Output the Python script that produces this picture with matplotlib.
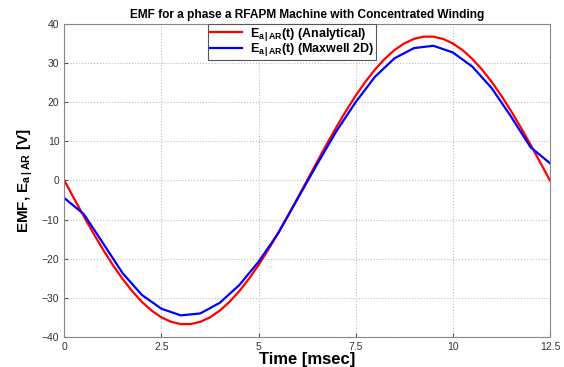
import numpy as np
import matplotlib.pyplot as plt

plt.rcParams['font.family'] = ['Liberation Sans', 'DejaVu Sans']
plt.rcParams['mathtext.fontset'] = 'custom'
plt.rcParams['mathtext.rm'] = 'Liberation Sans:bold'
plt.rcParams['mathtext.it'] = 'Liberation Sans:bold'
plt.rcParams['mathtext.bf'] = 'Liberation Sans:bold'

# analytical EMF, sampled every 0.25 ms
t_analytical = np.arange(0, 12.51, 0.25)
emf_analytical = [
    0.0, -4.61, -9.15, -13.55, -17.73, -21.63, -25.19, -28.35, -31.07, -33.30,
    -35.00, -36.15, -36.73, -36.73, -36.15, -35.00, -33.30, -31.07, -28.35, -25.19,
    -21.63, -17.73, -13.55, -9.15, -4.61, 0.0, 4.61, 9.15, 13.55, 17.73,
    21.63, 25.19, 28.35, 31.07, 33.30, 35.00, 36.15, 36.73, 36.73, 36.15,
    35.00, 33.30, 31.07, 28.35, 25.19, 21.63, 17.73, 13.55, 9.15, 4.61, 0.0,
]

# Maxwell 2D EMF, sampled every 0.5 ms
t_maxwell = np.arange(0, 12.51, 0.5)
emf_maxwell = [
    -4.5, -8.6, -16.1, -23.7, -29.3, -32.8, -34.5, -34.0, -31.3, -26.8,
    -20.8, -13.6, -4.8, 4.0, 12.5, 20.0, 26.5, 31.2, 33.8, 34.4,
    32.7, 29.1, 23.6, 16.3, 8.5, 4.4,
]

fig = plt.figure(figsize=(5.64, 3.67), dpi=100)
ax = fig.add_axes([0.114, 0.082, 0.861, 0.853])

ax.plot(t_analytical, emf_analytical, color='#ff0000', lw=1.6,
        label=r'E$_{\mathrm{a\,|\,AR}}$(t) (Analytical)')
ax.plot(t_maxwell, emf_maxwell, color='#0000ff', lw=1.6,
        label=r'E$_{\mathrm{a\,|\,AR}}$(t) (Maxwell 2D)')

ax.set_xlim(0, 12.5)
ax.set_ylim(-40, 40)
ax.set_xticks([0, 2.5, 5, 7.5, 10, 12.5])
ax.set_xticklabels(['0', '2.5', '5', '7.5', '10', '12.5'])
ax.set_yticks(range(-40, 41, 10))
ax.tick_params(direction='in', length=3, labelsize=7.5, colors='#555555',
               labelcolor='#333333')
for s in ax.spines.values():
    s.set_color('#888888')
ax.grid(True, linestyle=':', color='#bbbbbb', lw=0.8)

ax.set_title('EMF for a phase a RFAPM Machine with Concentrated Winding',
             fontsize=8.6, fontweight='bold', pad=4)
ax.set_xlabel('Time [msec]', fontsize=12, fontweight='bold', labelpad=0)
ax.set_ylabel(r'EMF, E$_{\mathrm{a\,|\,AR}}$ [V]', fontsize=11,
              fontweight='bold', labelpad=5)

leg = ax.legend(loc='upper center', bbox_to_anchor=(0.469, 1.0), fontsize=9,
                fancybox=False, framealpha=1, borderpad=0.15, borderaxespad=0,
                handlelength=2.6, labelspacing=-0.1, handletextpad=0.6)
leg.get_frame().set_edgecolor('#555555')
leg.get_frame().set_linewidth(0.8)
for txt in leg.get_texts():
    txt.set_fontweight('bold')

fig.savefig('out.png', dpi=100)
